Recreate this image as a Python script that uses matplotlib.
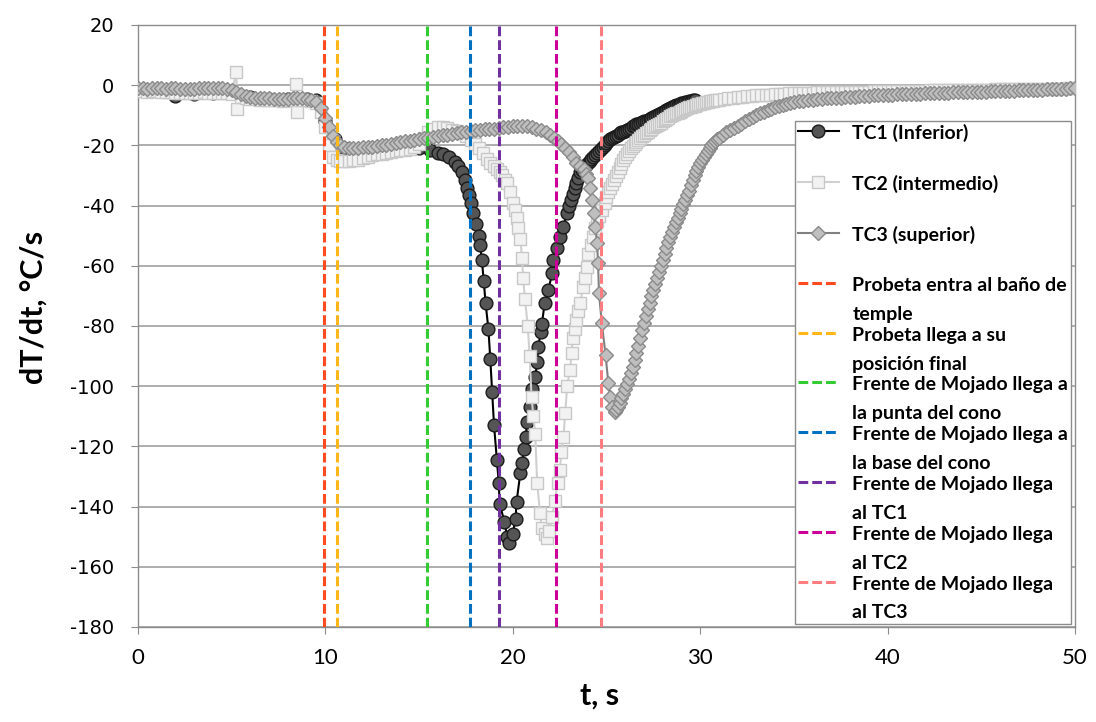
import numpy as np
import matplotlib
matplotlib.use('Agg')
import matplotlib.pyplot as plt
from matplotlib.lines import Line2D
from matplotlib.legend_handler import HandlerLine2D

plt.rcParams['font.family'] = ['Lato', 'DejaVu Sans']
plt.rcParams['axes.unicode_minus'] = False

# TC1 (inferior)
tc1_t = np.r_[[0, 1, 2, 3, 4, 5, 6, 7, 8, 9, 9.5, 10.0, 10.5, 11, 12, 13, 14, 15,
               15.6, 16.0, 16.3, 16.6, 16.9, 17.1, 17.3, 17.45, 17.55, 17.65, 17.75, 17.9,
               18.05, 18.2, 18.25, 18.35, 18.45, 18.55, 18.7, 18.8, 18.9,
               19.0, 19.15, 19.25, 19.3, 19.55, 19.7, 19.8,
               20.0, 20.15, 20.2, 20.4, 20.5, 20.6, 20.7, 20.75, 20.9,
               21.05, 21.2, 21.3, 21.35, 21.5, 21.55, 21.7, 21.9,
               22.1, 22.15, 22.35, 22.5, 22.7, 22.9],
              np.round(np.arange(23.0, 29.71, 0.1), 2)]
tc1_y = [-1.5, -2, -3.5, -3, -2.5, -2.5, -4, -4.5, -4.5, -4.5, -5, -12, -18, -21, -21.5, -21.5, -21, -21,
         -21.5, -22.5, -23, -24, -25.5, -27, -29, -31.5, -34, -36.5, -39, -42.5,
         -46, -50, -53, -58, -65, -72.5, -81, -91, -102,
         -113, -124.5, -132, -139, -145, -150, -152,
         -149, -144, -138.5, -129, -125.5, -121, -117, -112, -107,
         -101, -97, -92, -87, -82, -79.5, -72.5, -68,
         -62.5, -58, -54, -50.5, -47, -42.5,
         -40, -38, -36, -34.2, -32.5, -30.7, -29, -28.2, -27.4, -26.6,
         -25.9, -25.3, -24.6, -24, -23.3, -22.6, -21.9, -21.2, -20.6, -20,
         -19.3, -18.7, -18, -17.6, -17.2, -16.8, -16.4, -16, -15.7, -15.4,
         -15.1, -14.8, -14.5, -14.1, -13.7, -13.4, -13, -12.8, -12.5, -12.3,
         -12, -11.8, -11.5, -11.2, -10.8, -10.5, -10.2, -9.8, -9.5, -9.2,
         -8.8, -8.5, -8.2, -7.8, -7.5, -7.2, -7.0, -6.7, -6.5, -6.2,
         -6, -5.8, -5.7, -5.5, -5.3, -5.2, -5, -4.8]

# TC2 (intermedio)
tc2_t = np.r_[np.arange(0, 4.76, 0.25),
              [5.0, 5.25, 5.3, 5.5, 5.75, 6.0, 6.25, 6.5, 6.75, 7.0, 7.25, 7.5, 7.75, 8.0, 8.25, 8.45, 8.5,
               8.75, 9.0, 9.25, 9.5, 9.75],
              [10.0, 10.2, 10.4, 10.6, 10.8],
              np.arange(11.0, 17.76, 0.25),
              [18.0, 18.2, 18.4, 18.6, 18.8, 19.0, 19.15, 19.3, 19.45, 19.6, 19.7, 19.85, 20.0, 20.1, 20.2,
               20.3, 20.4, 20.5, 20.55, 20.65, 20.8, 20.9, 21.0, 21.1, 21.2, 21.3, 21.45, 21.55, 21.7, 21.8],
              [21.95, 22.1, 22.25, 22.4, 22.5, 22.6, 22.7, 22.8, 22.9, 23.05, 23.15, 23.2, 23.3, 23.4, 23.5,
               23.6, 23.75, 23.85, 23.95, 24.0, 24.15, 24.3, 24.4, 24.5, 24.6, 24.75, 24.9],
              np.round(np.arange(25.0, 31.01, 0.1), 2),
              np.arange(31.25, 34.76, 0.25),
              np.arange(35, 50.01, 0.25)]
tc2_y = [-2.0, -2.0, -2.1, -2.0, -2.0, -2.1, -2.2, -2.3, -2.5, -2.5, -2.5, -2.6, -2.5, -2.5, -2.4, -2.5,
         -2.5, -2.6, -2.5, -2.6,
         -2.8, 4.3, -8, -4, -4.3, -4.5, -4.7, -5, -5, -5, -5, -5, -5.2, -5, -5, 0.5, -9,
         -5, -5, -5.2, -6, -9,
         -14, -20, -24, -25, -25.3,
         -25.3, -25.2, -25, -24.7, -24.3, -23.8, -23.3, -23, -22.7, -22.4,
         -22.2, -22, -21.7, -21.5, -21.2, -20.7, -19.5, -17.5, -15.5, -14.5,
         -14, -14, -14.3, -14.8, -15.3, -16, -17, -18.2,
         -19.5, -21, -22.5, -24.5, -25.8, -27, -28, -29, -30, -31.5, -32.5, -35.5, -39, -41.5, -44,
         -47.5, -51, -57.5, -64, -71, -80, -90, -103.5, -110, -116, -132, -142, -147, -149, -150.5,
         -148, -143.5, -138, -132, -128, -122, -117, -109, -100, -94.5, -89, -84, -81, -78, -75,
         -72.5, -67, -64, -60.5, -56, -53, -50.5, -47.5, -45, -43.5, -41.5, -39,
         -37, -35.5, -34, -32.8, -31.5, -30.2, -29, -27.5, -26.2, -25,
         -24, -23, -22, -21, -20.2, -19.5, -18.8, -18.2, -17.6, -17,
         -16.5, -16, -15.5, -15, -14.5, -14, -13.6, -13.2, -12.8, -12.4,
         -12, -11.6, -11.2, -10.8, -10.4, -10, -9.7, -9.4, -9.1, -8.8,
         -8.5, -8.2, -7.9, -7.7, -7.4, -7.2, -7, -6.8, -6.6, -6.4,
         -6.2, -6.0, -5.8, -5.6, -5.5, -5.4, -5.3, -5.1, -5.0, -4.9, -4.8,
         -4.6, -4.4, -4.2, -4.0, -3.8, -3.7, -3.5, -3.4, -3.3, -3.2, -3.1, -3.0, -2.9, -2.8, -2.7,
         -2.6, -2.6, -2.5, -2.5, -2.5, -2.4, -2.4, -2.4, -2.3, -2.3,
         -2.3, -2.2, -2.2, -2.2, -2.1, -2.1, -2.1, -2.0, -2.0, -2.0,
         -2.0, -1.9, -1.9, -1.9, -1.9, -1.8, -1.8, -1.8, -1.8, -1.7,
         -1.7, -1.7, -1.7, -1.6, -1.6, -1.6, -1.6, -1.6, -1.5, -1.5,
         -1.5, -1.5, -1.5, -1.4, -1.4, -1.4, -1.4, -1.4, -1.3, -1.3,
         -1.3, -1.3, -1.3, -1.2, -1.2, -1.2, -1.2, -1.2, -1.1, -1.1, -1.1]

# TC3 (superior)
tc3_t = np.r_[np.arange(0, 9.76, 0.25),
              [10.0, 10.2, 10.4, 10.6, 10.8],
              np.arange(11.0, 22.01, 0.25),
              [22.2, 22.4, 22.6, 22.8, 23.0, 23.2, 23.4, 23.6, 23.8, 23.9],
              [24.0, 24.1, 24.25, 24.35, 24.4, 24.5, 24.55, 24.6, 24.75, 24.95, 25.1, 25.2, 25.3, 25.45],
              np.round(np.arange(25.5, 31.01, 0.1), 2),
              np.round(np.arange(31.2, 34.81, 0.2), 2),
              np.arange(35, 50.01, 0.25)]
tc3_y = [-1.0, -1.1, -1.2, -1.1, -1.0, -1.1, -1.2, -1.1, -1.0, -1.2, -1.4, -1.4, -1.3, -1.1, -1.0, -0.9,
         -1.0, -0.9, -1.0, -1.2,
         -1.5, -2.2, -3.0, -3.6, -4.0, -4.2, -4.3, -4.4, -4.4, -4.5, -4.5, -4.6, -4.5, -4.4, -4.3, -4.4,
         -4.5, -4.8, -5.5, -7.5,
         -11, -14, -17, -19, -20,
         -20.7, -21, -21, -21, -20.7, -20.5, -20.5, -20.3, -20, -19.8,
         -19.5, -19.2, -19, -18.7, -18.5, -18.2, -18, -17.7, -17.5, -17.2,
         -17, -16.7, -16.5, -16.2, -16, -15.7, -15.5, -15.2, -15, -14.8,
         -14.7, -14.6, -14.5, -14.2, -14, -13.8, -13.5, -13.4, -13.5, -13.7,
         -14, -14.5, -15, -15.7, -16.5,
         -17.5, -18.5, -19.5, -20.8, -22.3, -24, -25.7, -27, -28, -29.5,
         -31, -34, -38, -42.5, -47, -52.5, -59, -69, -79, -89.5, -99, -103.5, -107, -108.5,
         -108, -107, -105.5, -104, -102.5, -101, -99.3, -97.5, -95.5, -93.5,
         -91.3, -89, -86.5, -84, -81.5, -79, -76.8, -74.5, -72.2, -70,
         -68, -66, -64, -62, -60, -58, -56, -54, -52.2, -50.5,
         -48.7, -47, -45.5, -44, -42.5, -41, -39.5, -38, -36.5, -35,
         -33.2, -31.5, -30, -28.5, -27.2, -26, -25, -24, -23, -22,
         -21, -20, -19.2, -18.5, -18, -17.5,
         -16.5, -15.7, -15, -14.3, -13.6, -12.8, -12, -11.3, -10.6, -10,
         -9.4, -8.9, -8.4, -7.9, -7.4, -6.9, -6.5, -6.1, -5.8,
         -5.6, -5.4, -5.2, -5.0, -4.9, -4.7, -4.6, -4.4, -4.3, -4.2,
         -4.1, -4.0, -3.9, -3.8, -3.7, -3.6, -3.5, -3.4, -3.3, -3.2,
         -3.1, -3.1, -3.0, -3.0, -2.9, -2.9, -2.8, -2.8, -2.7, -2.7,
         -2.6, -2.6, -2.5, -2.5, -2.4, -2.4, -2.3, -2.3, -2.2, -2.2,
         -2.1, -2.1, -2.0, -2.0, -1.9, -1.9, -1.8, -1.8, -1.7, -1.7,
         -1.6, -1.6, -1.5, -1.5, -1.4, -1.4, -1.3, -1.3, -1.2, -1.1, -1.0]

# eventos (lineas verticales)
event_t = [9.9, 10.6, 15.4, 17.7, 19.25, 22.3, 24.7]
event_labels = ['Probeta entra al baño de\ntemple',
                'Probeta llega a su\nposición final',
                'Frente de Mojado llega a\nla punta del cono',
                'Frente de Mojado llega a\nla base del cono',
                'Frente de Mojado llega\nal TC1',
                'Frente de Mojado llega\nal TC2',
                'Frente de Mojado llega\nal TC3']
event_colors = ['#ff4b1f', '#ffb619', '#33cc33', '#0070c0', '#7030a0', '#cc0099', '#ff7c80']


class TopLine(HandlerLine2D):
    # put the handle on the first text line, like Excel does
    def create_artists(self, legend, orig_handle, xdescent, ydescent, width, height, fontsize, trans):
        arts = super().create_artists(legend, orig_handle, xdescent, ydescent, width, height, fontsize, trans)
        for a in arts:
            a.set_ydata(np.asarray(a.get_ydata()) + 0.88 * fontsize)
        return arts


fig = plt.figure(figsize=(10.96, 7.22), dpi=100)
ax = fig.add_axes([0.1259, 0.1316, 0.8549, 0.8338])

ax.plot(tc1_t, tc1_y, '-', color='black', lw=1.5, marker='o', ms=9.2,
        mfc='#555555', mec='#1a1a1a', mew=1.0, label='TC1 (Inferior)\n ', zorder=3)
ax.plot(tc2_t, tc2_y, '-', color='#d0d0d0', lw=1.5, marker='s', ms=8.4,
        mfc='#f2f2f2', mec='#c8c8c8', mew=1.0, label='TC2 (intermedio)\n ', zorder=4)
ax.plot(tc3_t, tc3_y, '-', color='#808080', lw=1.5, marker='D', ms=7.2,
        mfc='#bfbfbf', mec='#8a8a8a', mew=1.0, label='TC3 (superior)\n ', zorder=5)

for xe, lab, c in zip(event_t, event_labels, event_colors):
    ax.axvline(xe, color=c, lw=2.2, ls=(0, (3.2, 1.3)), label=lab, zorder=6)

ax.set_xlim(0, 50)
ax.set_ylim(-180, 20)
ax.set_xticks(np.arange(0, 51, 10))
ax.set_yticks(np.arange(-180, 21, 20))
ax.grid(axis='y', color='#a0a0a0', lw=1.2, zorder=0)
ax.set_axisbelow(True)
for s in ax.spines.values():
    s.set_color('#8c8c8c')
    s.set_linewidth(1.0)

ax.tick_params(axis='y', direction='out', length=5, color='#8c8c8c', pad=12, labelsize=14)
ax.tick_params(axis='x', direction='out', length=5, color='#8c8c8c', pad=10, labelsize=16)
for lab in ax.get_yticklabels():
    lab.set_family('DejaVu Sans')

ax.set_xlabel('t, s', fontsize=22, fontweight='bold')
ax.set_ylabel('dT/dt, °C/s', fontsize=22, fontweight='bold')
ax.xaxis.set_label_coords(0.493, -0.09)
ax.yaxis.set_label_coords(-0.096, 0.53)

leg = ax.legend(loc='upper left', bbox_to_anchor=(0.701, 0.84), borderaxespad=0,
                handler_map={Line2D: TopLine()},
                prop={'family': 'Lato', 'weight': 'bold', 'size': 14},
                handlelength=2.1, handletextpad=0.7, labelspacing=0.2, borderpad=0.15,
                fancybox=False, framealpha=1, edgecolor='#8c8c8c')
leg.get_frame().set_linewidth(1.0)
leg.set_zorder(10)
for t in leg.get_texts():
    t.set_linespacing(1.85)

fig.savefig('out.png', dpi=100)
